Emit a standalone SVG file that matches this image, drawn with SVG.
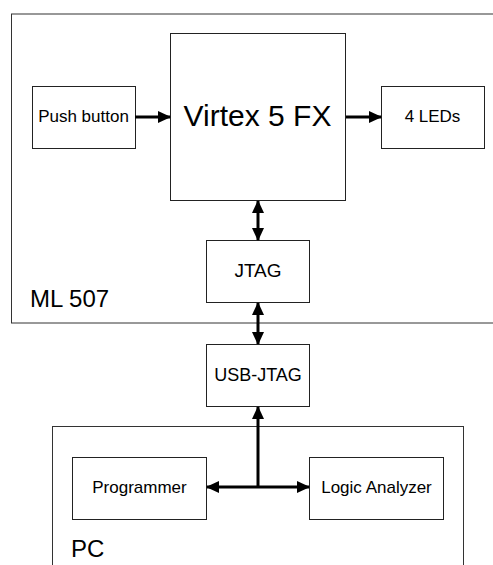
<svg xmlns="http://www.w3.org/2000/svg" width="493" height="565" viewBox="0 0 493 565">
<style>
.box{fill:none;stroke:#222;stroke-width:1}
.grp{fill:none;stroke:#333;stroke-width:1}
text{font-family:"Liberation Sans",Arial,sans-serif;fill:#000}
.lbl{font-size:17px;text-anchor:middle}
.big{font-size:24px}
.conn{fill:none;stroke:#000;stroke-width:3}
</style>
<defs>
<marker id="ah" markerUnits="userSpaceOnUse" markerWidth="13" markerHeight="12" refX="12" refY="6" orient="auto-start-reverse">
<path d="M0,0 L13,6 L0,12 Z" fill="#000"/>
</marker>
</defs>
<rect width="493" height="565" fill="#fff"/>
<g id="ml507">
<rect class="grp" x="11.5" y="14" width="500" height="309"/>
<text class="big" x="30" y="307">ML 507</text>
</g>
<g id="pc">
<rect class="grp" x="52.5" y="426.5" width="411" height="150"/>
<text class="big" x="71" y="557">PC</text>
</g>
<g id="virtex">
<rect class="box" x="170.5" y="33.5" width="175" height="167"/>
<text x="257.5" y="126" font-size="30" text-anchor="middle">Virtex 5 FX</text>
</g>
<g id="pushbutton">
<rect class="box" x="32.5" y="86.5" width="103" height="62"/>
<text class="lbl" x="83.5" y="122">Push button</text>
</g>
<g id="leds">
<rect class="box" x="381.5" y="86.5" width="103" height="62"/>
<text class="lbl" x="432.5" y="122">4 LEDs</text>
</g>
<g id="jtag">
<rect class="box" x="206.5" y="240.5" width="103" height="62"/>
<text x="258" y="277" font-size="19" text-anchor="middle">JTAG</text>
</g>
<g id="usbjtag">
<rect class="box" x="206.5" y="344.5" width="103" height="62"/>
<text x="258" y="381" font-size="18" text-anchor="middle">USB-JTAG</text>
</g>
<g id="programmer">
<rect class="box" x="72.5" y="457.5" width="134" height="62"/>
<text class="lbl" x="139.5" y="493">Programmer</text>
</g>
<g id="logic">
<rect class="box" x="309.5" y="457.5" width="134" height="62"/>
<text class="lbl" x="376.5" y="493">Logic Analyzer</text>
</g>
<g id="connectors">
<line class="conn" x1="135" y1="117" x2="170" y2="117" marker-end="url(#ah)"/>
<line class="conn" x1="346" y1="117" x2="381" y2="117" marker-end="url(#ah)"/>
<line class="conn" x1="258" y1="201" x2="258" y2="240" marker-start="url(#ah)" marker-end="url(#ah)"/>
<line class="conn" x1="258" y1="303" x2="258" y2="344" marker-start="url(#ah)" marker-end="url(#ah)"/>
<line class="conn" x1="207" y1="487" x2="309" y2="487" marker-start="url(#ah)" marker-end="url(#ah)"/>
<line class="conn" x1="258" y1="487" x2="258" y2="407" marker-end="url(#ah)"/>
</g>
</svg>
